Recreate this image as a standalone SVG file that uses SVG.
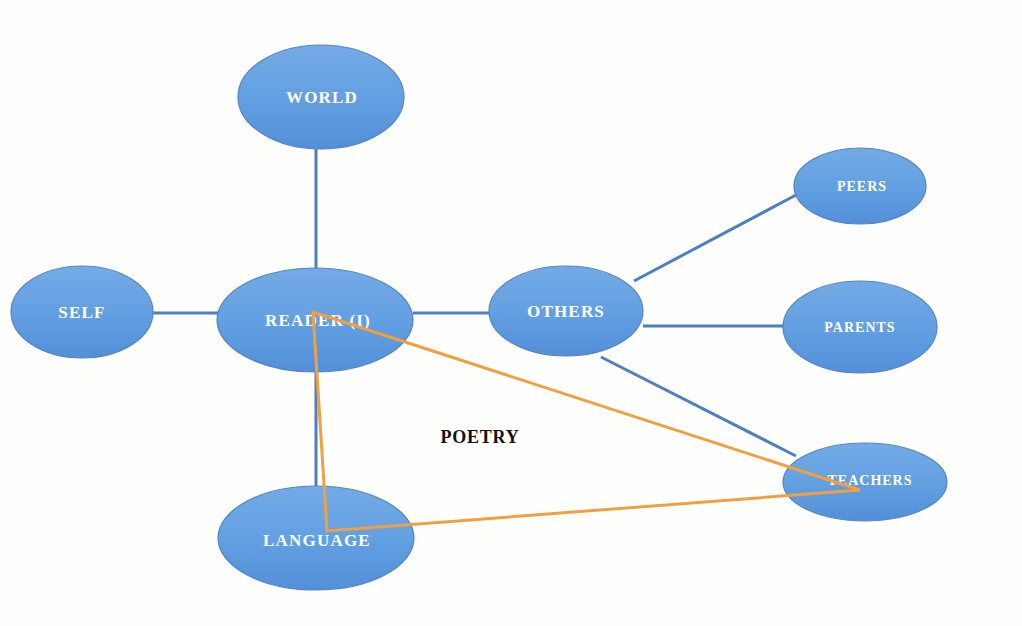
<svg xmlns="http://www.w3.org/2000/svg" width="1022" height="626" viewBox="0 0 1022 626">
<defs>
<linearGradient id="g" x1="0" y1="0" x2="0" y2="1">
<stop offset="0" stop-color="#74aae6"/>
<stop offset="0.5" stop-color="#63a0e2"/>
<stop offset="1" stop-color="#528fd8"/>
</linearGradient>
<style>
.n{fill:url(#g);stroke:#5485c2;stroke-width:1.2}
.t{fill:#ffffff;font-family:"Liberation Serif",serif;font-weight:bold;text-anchor:middle;dominant-baseline:central}
.b{font-size:17px;letter-spacing:1.2px}
.s{font-size:14px;letter-spacing:1px}
.c{stroke:#4f7fbf;stroke-width:3;fill:none}
.tri{stroke:#f0a040;stroke-width:3;fill:none;stroke-linejoin:miter}
</style>
</defs>
<rect width="1022" height="626" fill="#fefefc"/>
<g id="connectors">
<line class="c" x1="316" y1="149" x2="316" y2="268"/>
<line class="c" x1="153" y1="313" x2="218" y2="313"/>
<line class="c" x1="413" y1="313" x2="490" y2="313"/>
<line class="c" x1="316" y1="371" x2="316" y2="486"/>
<line class="c" x1="634" y1="281" x2="796" y2="195"/>
<line class="c" x1="643" y1="326" x2="784" y2="326"/>
<line class="c" x1="601" y1="357" x2="796" y2="456"/>
</g>
<g id="world"><ellipse class="n" cx="321" cy="97" rx="83" ry="52"/><text class="t b" x="322" y="97">WORLD</text></g>
<g id="self"><ellipse class="n" cx="82" cy="312" rx="71" ry="46"/><text class="t b" x="82" y="312">SELF</text></g>
<g id="reader"><ellipse class="n" cx="315" cy="320" rx="98" ry="52"/><text class="t b" x="318" y="320">READER (I)</text></g>
<g id="others"><ellipse class="n" cx="566" cy="311" rx="77" ry="45"/><text class="t b" x="566" y="311">OTHERS</text></g>
<g id="peers"><ellipse class="n" cx="860" cy="186" rx="66" ry="38"/><text class="t s" x="862" y="186">PEERS</text></g>
<g id="parents"><ellipse class="n" cx="860" cy="327" rx="77" ry="46"/><text class="t s" x="860" y="327">PARENTS</text></g>
<g id="teachers"><ellipse class="n" cx="865" cy="482" rx="82" ry="39"/><text class="t s" x="870" y="480">TEACHERS</text></g>
<g id="language"><ellipse class="n" cx="316" cy="538" rx="98" ry="52"/><text class="t b" x="317" y="540">LANGUAGE</text></g>
<g id="poetry-triangle"><polygon class="tri" points="313,312 860,490 327,531"/></g>
<g id="poetry"><text x="480" y="437" font-family="'Liberation Serif',serif" font-weight="bold" font-size="18" letter-spacing="0.8" fill="#111111" text-anchor="middle" dominant-baseline="central">POETRY</text></g>
</svg>
